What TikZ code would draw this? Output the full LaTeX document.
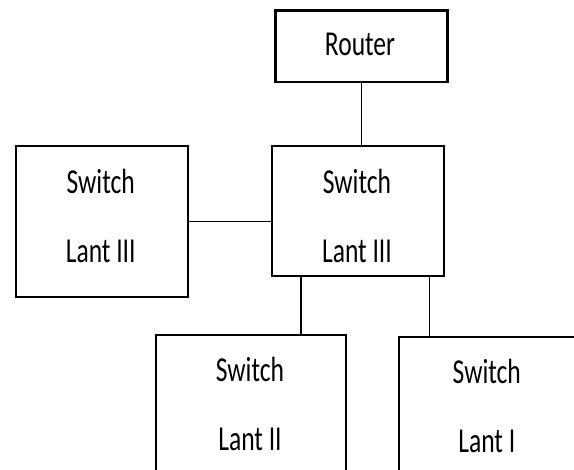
\documentclass[tikz,border=0pt]{standalone}
\usepackage{fontspec}
\newfontfamily\boxfont[FakeStretch=0.73]{Carlito}
\begin{document}
\begin{tikzpicture}[
              x = 1pt, y = 1pt,
              box/.style = {draw, line width=2.6pt, minimum width=172pt, inner sep=0pt},
              txt/.style = {align=center, inner sep=0pt, font=\boxfont\fontsize{35pt}{69pt}\selectfont},
              wire/.style = {draw, line width=1.3pt}
            ]
            \useasboundingbox (0,0) rectangle (574,470);
            % boxes
            \node[box, minimum height=71.5pt] (router) at (361.5,423.8) {};
            \node[box, minimum height=130pt] (mid) at (358,259) {};
            \node[box, minimum height=151pt] (left) at (102,248.5) {};
            \node[box, minimum width=190pt, minimum height=145pt] (bl) at (251,62.5) {};
            \node[box, minimum width=190pt, minimum height=143pt] (br) at (494,61.5) {};
            % texts
            \node[txt] (router-t) at (360,426) {Router};
            \node[txt] (mid-t) at (357,254) {Switch\\Lant III};
            \node[txt] (left-t) at (100.7,254) {Switch\\Lant III};
            \node[txt] (bl-t) at (250,66) {Switch\\Lant II};
            \node[txt] (br-t) at (486.8,64) {Switch\\Lant I};
            % links
            \draw[wire] (router.south) -- (router.south |- mid.north);
            \draw[wire] (left.east) -- (left.east -| mid.west);
            \draw[wire] ([xshift=-57pt]mid.south) -- ([xshift=-57pt]mid.south |- bl.north);
            \draw[wire] ([xshift=71.4pt]mid.south) -- ([xshift=71.4pt]mid.south |- br.north);
          \end{tikzpicture}
\end{document}
